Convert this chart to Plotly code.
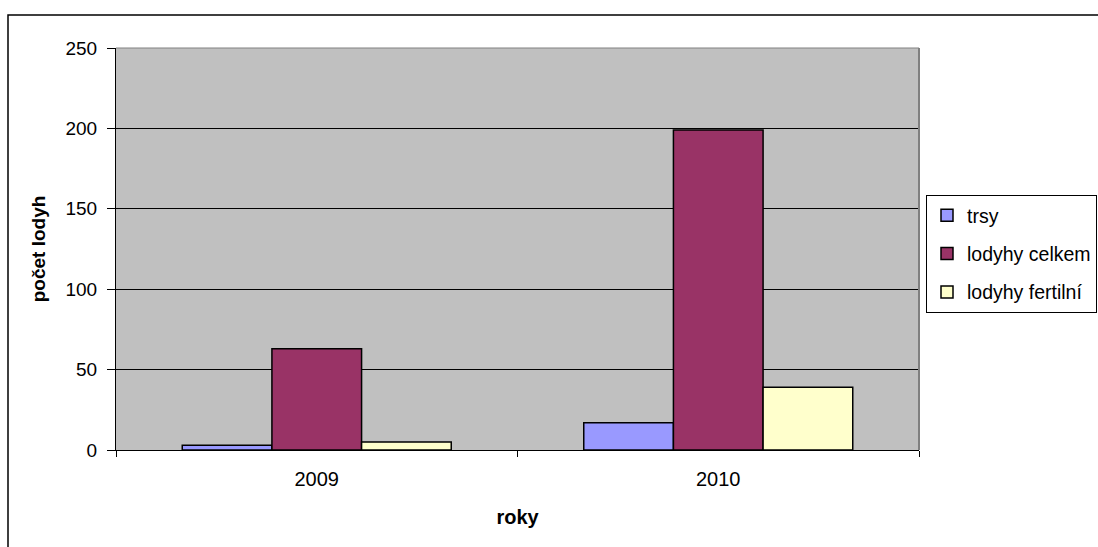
import plotly.graph_objects as go

years = ["2009", "2010"]
trsy = [3, 17]
lodyhy_celkem = [63, 199]
lodyhy_fertilni = [5, 39]
series_names = ["trsy", "lodyhy celkem", "lodyhy fertilní"]
series_colors = ["#9999FF", "#993366", "#FFFFCC"]
y_ticks = [0, 50, 100, 150, 200, 250]

FONT = "Liberation Sans, Arial, sans-serif"
fig = go.Figure()
for i, (name, vals, col) in enumerate(zip(series_names, [trsy, lodyhy_celkem, lodyhy_fertilni], series_colors)):
    fig.add_trace(go.Bar(
        x=years, y=vals, name=name, legendgroup=f"g{i}",
        marker=dict(color=col, line=dict(color="black", width=1.5)),
    ))

W, H = 1098, 547
L, R, T, B = 116, 179, 48, 97
pw, ph = W - L - R, H - T - B

def px_x(p):
    return (p - L) / pw

def px_y(p):
    return (H - B - p) / ph

fig.update_layout(
    width=W, height=H,
    margin=dict(l=L, r=R, t=T, b=B, autoexpand=False),
    paper_bgcolor="white", plot_bgcolor="#C0C0C0",
    font=dict(family=FONT, size=20, color="black"),
    barmode="group", bargap=0.33, bargroupgap=0,
    legend=dict(
        x=px_x(926), y=px_y(195), xanchor="left", yanchor="top",
        bordercolor="black", borderwidth=1, bgcolor="white",
        font=dict(size=19.5), traceorder="grouped", tracegroupgap=10,
        itemwidth=30,
    ),
    xaxis=dict(
        type="category", showline=True, linecolor="black", linewidth=1,
        ticks="outside", ticklen=6, tickcolor="black", tickson="boundaries",
        showgrid=False, tickfont=dict(size=20), ticklabelstandoff=11,
        title=dict(text="<b>roky</b>", font=dict(size=20), standoff=20),
    ),
    yaxis=dict(
        range=[0, 250], tickvals=y_ticks, showline=True, linecolor="black", linewidth=1,
        ticks="outside", ticklen=8, tickcolor="black",
        showgrid=True, gridcolor="black", gridwidth=1, zeroline=False,
        tickfont=dict(size=19), ticklabelstandoff=6,
        title=dict(text="<b>počet lodyh</b>", font=dict(size=19), standoff=14),
    ),
    shapes=[
        dict(type="line", xref="paper", yref="paper", x0=1, x1=1, y0=0, y1=1,
             line=dict(color="#808080", width=2), layer="above"),
        dict(type="line", xref="paper", yref="paper", x0=0, x1=1, y0=1, y1=1,
             line=dict(color="#808080", width=1), layer="above"),
        dict(type="rect", xref="paper", yref="paper",
             x0=px_x(8), x1=px_x(1105), y0=px_y(15), y1=px_y(555),
             line=dict(color="black", width=1.5), layer="above"),
    ],
)

fig.write_html("out.html")
